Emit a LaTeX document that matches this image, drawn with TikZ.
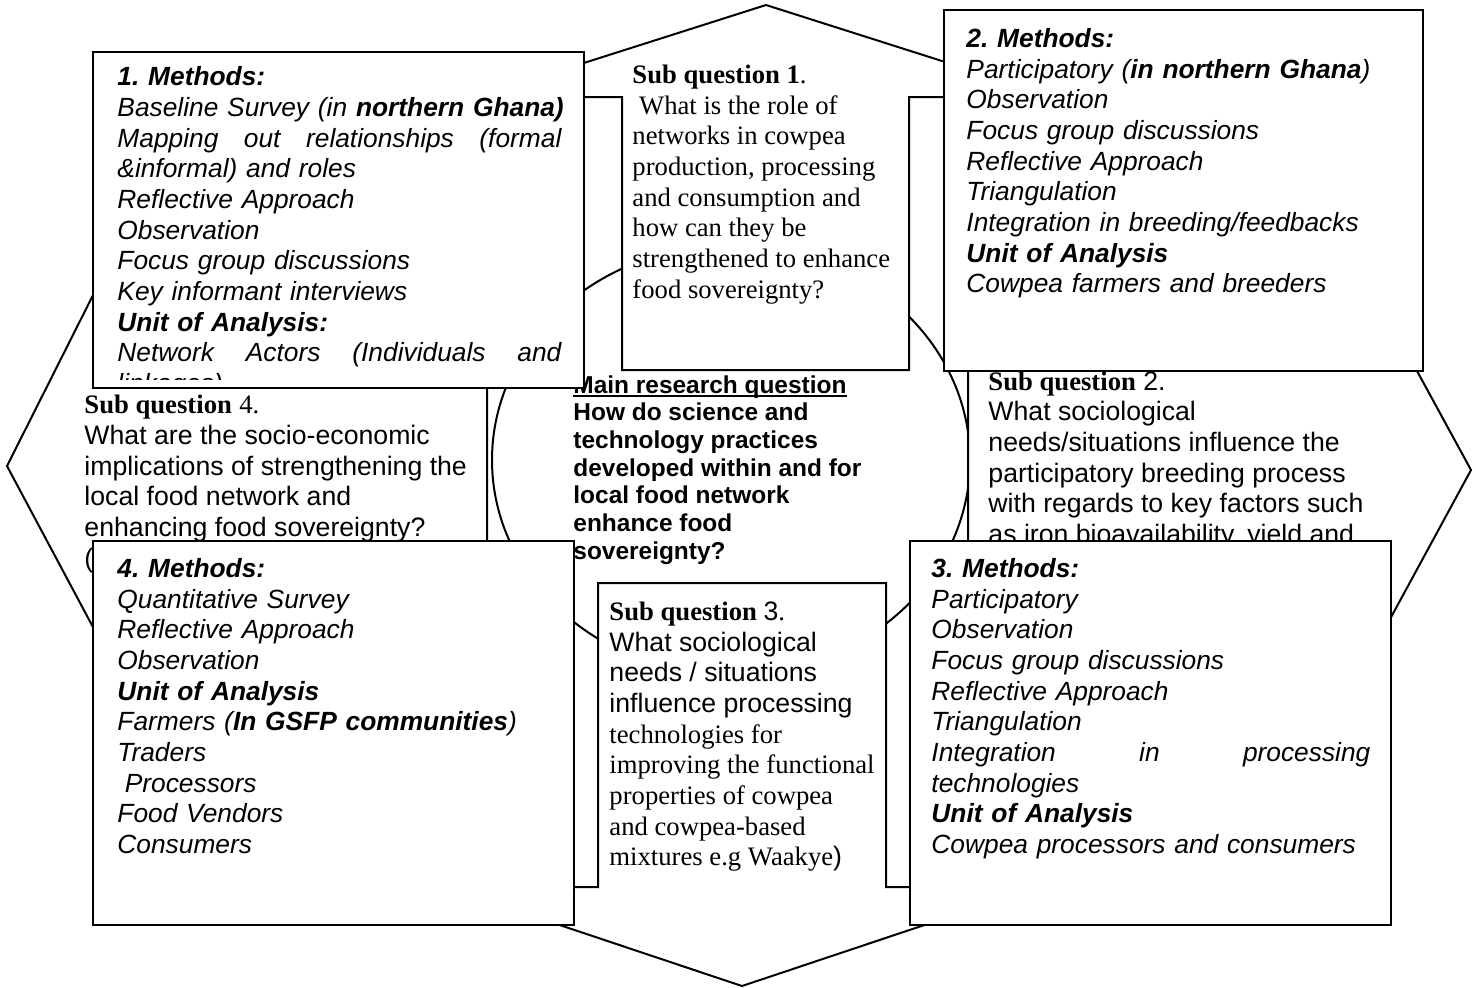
\documentclass[tikz,border=0pt]{standalone}
\usepackage{fontspec}
\setmainfont{Liberation Serif}
\setsansfont{Liberation Sans}
\usetikzlibrary{fit, shapes.geometric}
\frenchspacing
\newsavebox{\ulbox}
\newcommand{\mainul}[1]{\sbox{\ulbox}{#1}\rlap{\rule[-1.8pt]{\wd\ulbox}{0.9pt}}\usebox{\ulbox}}

\begin{document}
\begin{tikzpicture}[
		x=0.45pt, y=-0.45pt,
		outline/.style={draw=black, line width=0.9pt, fill=white},
		methodbox/.style={draw=black, line width=1pt, fill=white, inner sep=0pt},
		methodtext/.style={anchor=north west, inner sep=0pt, align=left, text width=230pt,
			font=\sffamily\itshape\fontsize{11.85}{13.8}\selectfont, execute at begin node=\strut},
		subqtext/.style={anchor=north west, inner sep=0pt, align=left,
			font=\rmfamily\fontsize{12}{13.8}\selectfont, execute at begin node=\strut},
		subqsans/.style={subqtext, font=\sffamily\fontsize{12}{13.8}\selectfont},
		maintext/.style={anchor=north west, inner sep=0pt, align=left,
			font=\sffamily\bfseries\fontsize{11}{12.45}\selectfont, execute at begin node=\strut}]

	\useasboundingbox[fill=white] (0,0) rectangle (1476,987);

	% centre circle
	\node[draw, ellipse, line width=0.9pt, minimum width=215.1pt, minimum height=193.5pt, inner sep=0pt] (hub) at (731,460) {};

	% the four sub question arrows
	\draw[outline] (622,370) -- (622,97) -- (477,97) -- (766,5) -- (1055,97) -- (909,97) -- (909,370) -- cycle;
	\draw[outline] (968,321) -- (1315,321) -- (1315,184) -- (1471,470) -- (1315,757) -- (1315,609) -- (968,609) -- cycle;
	\draw[outline] (598,583) -- (886,583) -- (886,887) -- (1038,887) -- (742,986) -- (446,887) -- (598,887) -- cycle;
	\draw[outline] (487,317) -- (157,317) -- (157,168) -- (7,466) -- (157,747) -- (157,605) -- (487,605) -- cycle;

	\node[maintext] (mainq) at (573,375) {\mainul{Main research question}\\
		How do science and\\
		technology practices\\
		developed within and for\\
		local food network\\
		enhance food\\
		sovereignty?};

	\node[subqtext] (subq1) at (632,64.5) {\textbf{Sub question 1}.\\
		\hspace*{0.25em}What is the role of\\
		networks in cowpea\\
		production, processing\\
		and consumption and\\
		how can they be\\
		strengthened to enhance\\
		food sovereignty?};

	\node[subqsans] (subq2) at (988,371) {{\rmfamily\bfseries Sub question} 2.\\
		What sociological\\
		needs/situations influence the\\
		participatory breeding process\\
		with regards to key factors such\\
		as iron bioavailability, yield and};

	\node[subqtext] (subq3) at (609,601.5) {\textbf{Sub question} {\sffamily 3}.\\
		{\sffamily What sociological}\\
		{\sffamily needs / situations}\\
		{\sffamily influence processing}\\
		technologies for\\
		improving the functional\\
		properties of cowpea\\
		and cowpea-based\\
		mixtures e.g Waakye{\sffamily )}};

	\node[subqsans] (subq4) at (84,395) {{\rmfamily\bfseries Sub question} {\rmfamily 4.}\\
		What are the socio-economic\\
		implications of strengthening the\\
		local food network and\\
		enhancing food sovereignty?\\
		(};

	% methods boxes
	\node[methodbox, fit={(93,52) (584,388)}] (methods1) {};
	\begin{scope}
		\clip (93,52) rectangle (584,379);
		\node[methodtext] (m1text) at (117,64) {\textbf{1. Methods:}\\
			Baseline Survey (in \textbf{northern Ghana)}\\
			\makebox[199.8pt][l]{Mapping\hfill out\hfill relationships\hfill (formal}\\
			\&informal) and roles\\
			Reflective Approach\\
			Observation\\
			Focus group discussions\\
			Key informant interviews\\
			\textbf{Unit of Analysis:}\\
			\makebox[199.8pt][l]{Network\hfill Actors\hfill (Individuals\hfill and}\\
			linkages)};
	\end{scope}

	\node[methodbox, fit={(944,10) (1423,371)}] (methods2) {};
	\node[methodtext] (m2text) at (966,25.5) {\textbf{2. Methods:}\\
		Participatory (\textbf{in northern Ghana})\\
		Observation\\
		Focus group discussions\\
		Reflective Approach\\
		Triangulation\\
		Integration in breeding/feedbacks\\
		\textbf{Unit of Analysis}\\
		Cowpea farmers and breeders};

	\node[methodbox, fit={(93,541) (574,925)}] (methods4) {};
	\node[methodtext] (m4text) at (117,555.5) {\textbf{4. Methods:}\\
		Quantitative Survey\\
		Reflective Approach\\
		Observation\\
		\textbf{Unit of Analysis}\\
		Farmers (\textbf{In GSFP communities})\\
		Traders\\
		\hspace*{0.28em}Processors\\
		Food Vendors\\
		Consumers};

	\node[methodbox, fit={(910,541) (1391,925)}] (methods3) {};
	\node[methodtext] (m3text) at (931,555.5) {\textbf{3. Methods:}\\
		Participatory\\
		Observation\\
		Focus group discussions\\
		Reflective Approach\\
		Triangulation\\
		\makebox[197.5pt][l]{Integration\hfill in\hfill processing}\\
		technologies\\
		\textbf{Unit of Analysis}\\
		Cowpea processors and consumers};

\end{tikzpicture}
\end{document}
